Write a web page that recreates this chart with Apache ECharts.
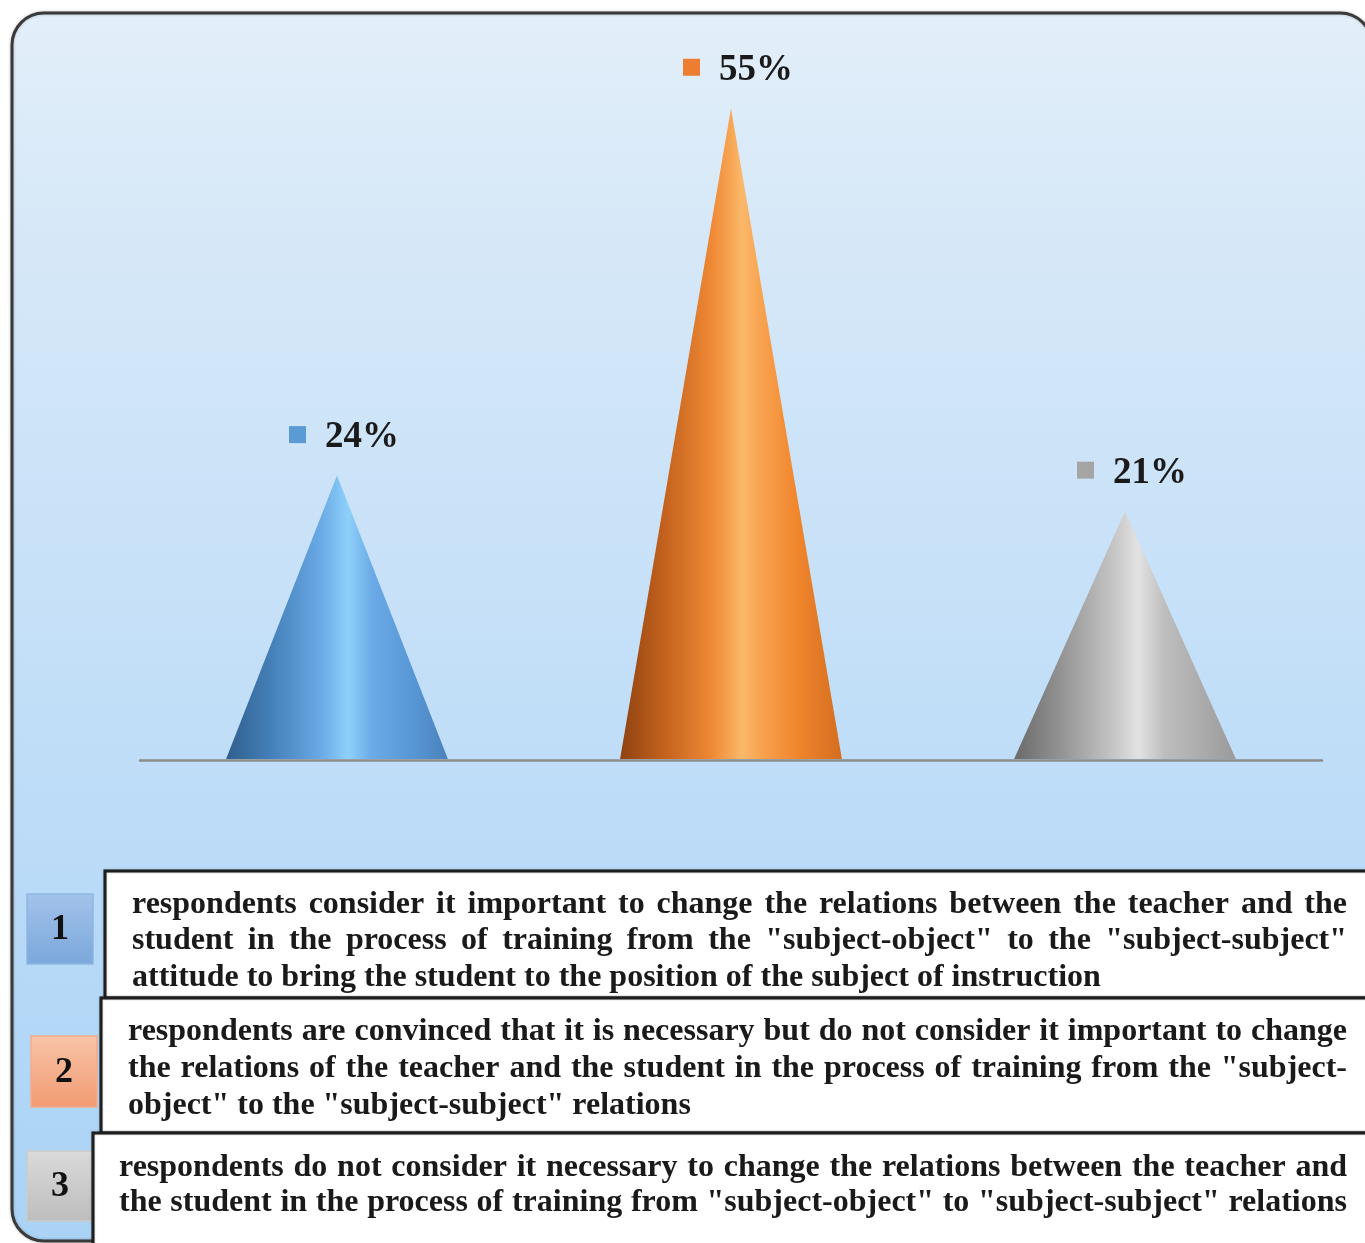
<!DOCTYPE html>
<html>
<head>
<meta charset="utf-8">
<script src="https://cdn.jsdelivr.net/npm/echarts@6/dist/echarts.min.js"></script>
<style>
  html, body { margin: 0; padding: 0; background: #ffffff; }
  #chart { width: 1365px; height: 1243px; }
</style>
</head>
<body>
<div id="chart"></div>
<script>
// ---- data ----
const categories = ['1', '2', '3'];
const values = [24, 55, 21];
const valueLabels = ['24%', '55%', '21%'];
const descriptionLines = [
  [
    'respondents consider it important to change the relations between the teacher and the',
    'student in the process of training from the "subject-object" to the "subject-subject"',
    'attitude to bring the student to the position of the subject of instruction'
  ],
  [
    'respondents are convinced that it is necessary but do not consider it important to change',
    'the relations of the teacher and the student in the process of training from the "subject-',
    'object" to the "subject-subject" relations'
  ],
  [
    'respondents do not consider it necessary to change the relations between the teacher and',
    'the student in the process of training from "subject-object" to "subject-subject" relations'
  ]
];

// ---- styles ----
const SERIF = '"Liberation Serif", "Times New Roman", serif';
const squareColors = ['#5b9bd5', '#ed7d31', '#a5a5a5'];
const coneStops = [
  [[0, '#2f5f8d'], [0.2, '#447fb8'], [0.42, '#68a8e4'], [0.55, '#8ed0fb'], [0.66, '#6aaae6'], [0.85, '#5796d4'], [1, '#4a82bb']],
  [[0, '#8f4212'], [0.2, '#c4621d'], [0.42, '#f08a36'], [0.55, '#fbb86a'], [0.64, '#f8a24f'], [0.8, '#f0852c'], [1, '#d46d20']],
  [[0, '#6a6a6a'], [0.22, '#959595'], [0.45, '#c6c6c6'], [0.56, '#e2e2e2'], [0.68, '#bdbdbd'], [0.85, '#ababab'], [1, '#9a9a9a']]
];
const numberBoxes = [
  { x: 27, y: 894, w: 66, h: 70, top: '#a3c3ea', bottom: '#7aa7db', stroke: '#8fb6e4' },
  { x: 31, y: 1036, w: 66, h: 71, top: '#f8c3a8', bottom: '#f29b72', stroke: '#f3ad8b' },
  { x: 27, y: 1151, w: 66, h: 70, top: '#dadada', bottom: '#bdbdbd', stroke: '#cccccc' }
];
const textBoxes = [
  { x: 105, y: 871, h: 127, textX: 132, lineY: [905, 941, 978], justify: [true, true, false] },
  { x: 101, y: 998, h: 135, textX: 128, lineY: [1032, 1069, 1106], justify: [true, true, false] },
  { x: 93, y: 1133, h: 140, textX: 119, lineY: [1168, 1203], justify: [true, true] }
];
const TEXT_RIGHT = 1347;

// measure text for layout
const mctx = document.createElement('canvas').getContext('2d');
function measure(t, size) {
  mctx.font = 'bold ' + size + 'px ' + SERIF;
  return mctx.measureText(t).width;
}
// font size so that the last (natural) line of box 1 fits its width in the reference
const bodySize = Math.round(100 * 968 / measure(descriptionLines[0][2], 100) * 10) / 10;

const graphics = [];
// panel
graphics.push({
  type: 'rect', z: -10, silent: true,
  shape: { x: 12, y: 13, width: 1360, height: 1228, r: 32 },
  style: {
    fill: new echarts.graphic.LinearGradient(0, 0, 0, 1, [
      { offset: 0, color: '#e3effa' }, { offset: 0.15, color: '#d8e9f8' },
      { offset: 0.5, color: '#c5e0f8' }, { offset: 1, color: '#aad3f6' }
    ]),
    stroke: '#3a3a3a', lineWidth: 3,
    shadowBlur: 3, shadowColor: 'rgba(0,0,0,0.25)'
  }
});
// number boxes
numberBoxes.forEach((b, i) => {
  graphics.push({
    type: 'rect', z: 20, silent: true,
    shape: { x: b.x, y: b.y, width: b.w, height: b.h },
    style: {
      fill: new echarts.graphic.LinearGradient(0, 0, 0, 1, [
        { offset: 0, color: b.top }, { offset: 1, color: b.bottom }
      ]),
      stroke: b.stroke, lineWidth: 1.5
    }
  });
  graphics.push({
    type: 'text', z: 21, silent: true,
    x: b.x + b.w / 2, y: b.y + b.h / 2 + 1,
    style: {
      text: categories[i], font: 'bold 36px ' + SERIF, fill: '#111111',
      align: 'center', verticalAlign: 'middle'
    }
  });
});
// text boxes
textBoxes.forEach((b, i) => {
  graphics.push({
    type: 'rect', z: 20 + i, silent: true,
    shape: { x: b.x, y: b.y, width: 1400, height: b.h },
    style: { fill: '#ffffff', stroke: '#1e1e1e', lineWidth: 3, shadowBlur: 2, shadowColor: 'rgba(0,0,0,0.3)' }
  });
  descriptionLines[i].forEach((line, j) => {
    const y = b.lineY[j];
    if (b.justify[j]) {
      const words = line.split(' ');
      const widths = words.map(w => measure(w, bodySize));
      const total = widths.reduce((a, c) => a + c, 0);
      const gap = (TEXT_RIGHT - b.textX - total) / (words.length - 1);
      let x = b.textX;
      words.forEach((w, k) => {
        graphics.push({
          type: 'text', z: 30, silent: true, x: x, y: y,
          style: { text: w, font: 'bold ' + bodySize + 'px ' + SERIF, fill: '#1a1a1a', align: 'left', verticalAlign: 'middle' }
        });
        x += widths[k] + gap;
      });
    } else {
      graphics.push({
        type: 'text', z: 30, silent: true, x: b.textX, y: y,
        style: { text: line, font: 'bold ' + bodySize + 'px ' + SERIF, fill: '#1a1a1a', align: 'left', verticalAlign: 'middle' }
      });
    }
  });
});

const chart = echarts.init(document.getElementById('chart'), null, { renderer: 'canvas' });
chart.setOption({
  animation: false,
  backgroundColor: 'transparent',
  grid: { left: 140, right: 43, top: 49, bottom: 483, containLabel: false },
  xAxis: {
    type: 'category', data: categories,
    axisLine: { show: true, lineStyle: { color: '#8c8c8c', width: 2.5 } },
    axisTick: { show: false }, axisLabel: { show: false }, splitLine: { show: false }
  },
  yAxis: { type: 'value', min: 0, max: 60, show: false, splitLine: { show: false } },
  graphic: graphics,
  series: [{
    type: 'custom',
    z: 5,
    data: values.map((v, i) => [i, v]),
    renderItem: function (params, api) {
      const idx = api.value(0);
      const top = api.coord([idx, api.value(1)]);
      const base = api.coord([idx, 0]);
      const bw = api.size([1, 0])[0] * 0.563;
      const stops = coneStops[idx].map(s => ({ offset: s[0], color: s[1] }));
      return {
        type: 'group',
        children: [
          {
            type: 'polygon',
            shape: { points: [[base[0] - bw / 2, base[1] - 1], [top[0], top[1]], [base[0] + bw / 2, base[1] - 1]] },
            style: { fill: new echarts.graphic.LinearGradient(0, 0, 1, 0, stops) }
          },
          {
            type: 'rect',
            shape: { x: top[0] - 48, y: top[1] - 41 - 8.5, width: 17, height: 17 },
            style: { fill: squareColors[idx] }
          },
          {
            type: 'text',
            x: top[0] - 12, y: top[1] - 38,
            style: { text: valueLabels[idx], font: 'bold 37px ' + SERIF, fill: '#1a1a1a', align: 'left', verticalAlign: 'middle' }
          }
        ]
      };
    }
  }]
});
</script>
</body>
</html>
